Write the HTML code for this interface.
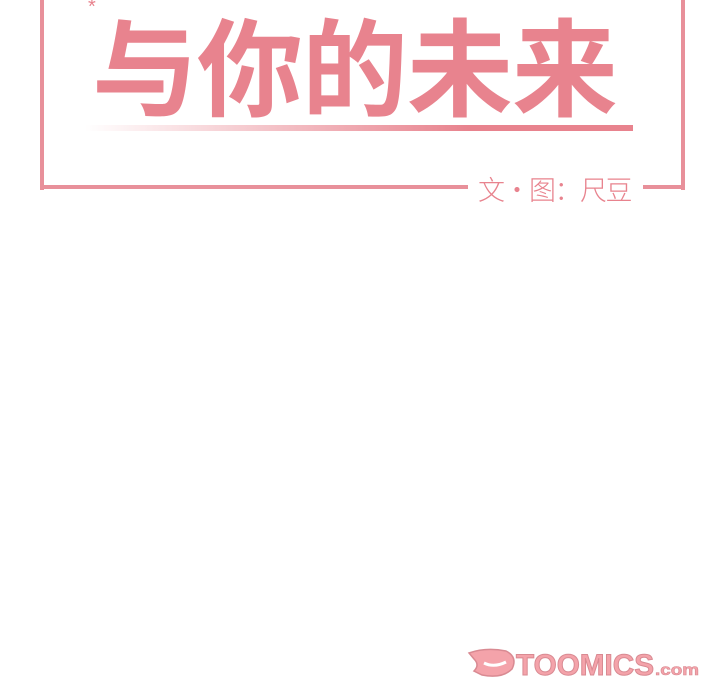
<!DOCTYPE html>
<html><head><meta charset="utf-8"><style>
html,body{margin:0;padding:0;width:720px;height:700px;background:#fff;overflow:hidden;position:relative;font-family:"Liberation Sans","Noto Sans CJK SC",sans-serif}
.a{position:absolute}
</style></head><body>
<div class="a" style="left:40px;top:0;width:4px;height:190px;background:#e8909a"></div>
<div class="a" style="left:681px;top:0;width:4px;height:190px;background:#e8909a"></div>
<div class="a" style="left:40px;top:185px;width:428px;height:4px;background:#e8909a"></div>
<div class="a" style="left:643px;top:185px;width:42px;height:4px;background:#e8909a"></div>
<div class="a" style="left:88px;top:-4px;font-size:20px;color:#e8838e">*</div>
<div class="a" style="left:92px;top:2px;font-size:106px;line-height:120px;font-weight:bold;color:#e8838e;letter-spacing:-1px;font-family:'Noto Sans CJK SC',sans-serif;white-space:nowrap">与你的未来</div>
<div class="a" style="left:85px;top:125px;width:548px;height:6px;background:linear-gradient(to right,rgba(232,131,142,0),rgba(232,131,142,0.5) 35%,#e8838e 70%)"></div>
<div class="a" style="left:478px;top:172px;font-size:27px;line-height:34px;color:#e8838e;white-space:nowrap;font-family:'Noto Sans CJK SC',sans-serif;font-weight:300;letter-spacing:-1.5px">文·图：尺豆</div>
<div class="a" style="left:466px;top:645px;width:235px;height:36px">
<svg width="235" height="36" viewBox="0 0 235 36">
<path d="M3 8 Q20 2 40 6 Q52 12 46 24 Q36 34 16 30 L8 26 Q14 20 8 14 Z" fill="#f4a3aa" stroke="#d98a92" stroke-width="1.5"/>
<path d="M18 18 Q28 23 40 17" stroke="#fff" stroke-width="3" fill="none"/>
<text x="50" y="30" font-family="Liberation Sans,sans-serif" font-weight="bold" font-size="30" fill="#f4a3aa" stroke="#d98a92" stroke-width="1" textLength="138" lengthAdjust="spacingAndGlyphs">TOOMICS</text>
<text x="189" y="30" font-family="Liberation Sans,sans-serif" font-weight="bold" font-size="16" fill="#f4a3aa" stroke="#d98a92" stroke-width="0.6" textLength="44" lengthAdjust="spacingAndGlyphs">.com</text>
</svg></div>
</body></html>
